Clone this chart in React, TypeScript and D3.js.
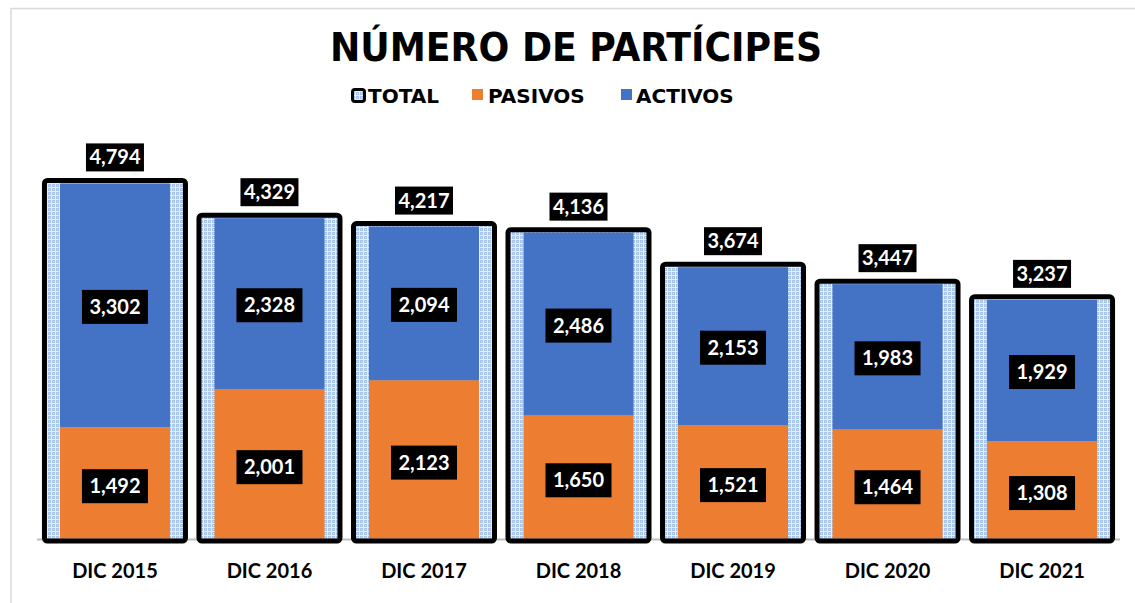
import React from "react";
import * as d3 from "d3";

// chart values
const categories = ["DIC 2015", "DIC 2016", "DIC 2017", "DIC 2018", "DIC 2019", "DIC 2020", "DIC 2021"];
const total = [4794, 4329, 4217, 4136, 3674, 3447, 3237];
const pasivos = [1492, 2001, 2123, 1650, 1521, 1464, 1308];
const activos = [3302, 2328, 2094, 2486, 2153, 1983, 1929];

const legendItems = ["TOTAL", "PASIVOS", "ACTIVOS"];

const W = 1135;
const H = 603;
const ORANGE = "#ED7D31";
const BLUE = "#4472C4";
const LABEL_FONT = "Lato, 'Open Sans', sans-serif";
const fmt = d3.format(",");

const App = () => {
  const x = d3.scaleBand<string>().domain(categories).range([37.7, 1119.3]).padding(0);
  const y = d3.scaleLinear().domain([0, 5000]).range([539, 165]);

  const outerW = 141; // total bar (stroke centre)
  const innerW = 110; // stacked bars

  const rows = categories.map((c, i) => ({
    cat: c,
    cx: (x(c) ?? 0) + x.bandwidth() / 2,
    total: total[i],
    pasivos: pasivos[i],
    activos: activos[i],
  }));

  // legend positions
  const legendX = [351, 472, 621];

  return (
    <svg
      width={W}
      height={H}
      style={{ position: "absolute", left: 0, top: 0, background: "#fff" }}
    >
      <defs>
        <pattern id="dots" width={4} height={4} patternUnits="userSpaceOnUse">
          <rect width={4} height={4} fill="#a9c6ea" />
          <rect x={3} y={0} width={1} height={4} fill="#e6eff9" />
          <rect x={0} y={3} width={4} height={1} fill="#e6eff9" />
          <rect x={1} y={1} width={1} height={1} fill="#cfe0f4" />
        </pattern>
      </defs>

      {/* chart frame */}
      <rect x={11} y={8.5} width={W} height={H} fill="none" stroke="#d9d9d9" strokeWidth={1.5} />

      {/* title */}
      <text
        x={576}
        y={61}
        textAnchor="middle"
        fontFamily="'DejaVu Sans Condensed', 'DejaVu Sans', sans-serif"
        fontWeight="bold"
        fontSize={39}
        textLength={492}
        lengthAdjust="spacingAndGlyphs"
        fill="#000"
      >
        NÚMERO DE PARTÍCIPES
      </text>

      {/* legend */}
      <g fontFamily="'DejaVu Sans', Verdana, sans-serif" fontWeight="bold" fontSize={20} fill="#000">
        <rect x={legendX[0] + 1.5} y={89.5} width={12} height={12} rx={2.5} fill="url(#dots)" stroke="#000" strokeWidth={3} />
        <text x={legendX[0] + 17} y={103}>{legendItems[0]}</text>
        <rect x={legendX[1]} y={89} width={11} height={11} fill={ORANGE} />
        <text x={legendX[1] + 16} y={103}>{legendItems[1]}</text>
        <rect x={legendX[2]} y={89} width={11} height={11} fill={BLUE} />
        <text x={legendX[2] + 15} y={103}>{legendItems[2]}</text>
      </g>

      {/* total bars (pattern fill) */}
      {rows.map((d) => (
        <rect
          key={"tf" + d.cat}
          x={d.cx - outerW / 2}
          y={y(d.total)}
          width={outerW}
          height={y(0) - y(d.total) + 2}
          fill="url(#dots)"
        />
      ))}

      {/* stacked bars */}
      {rows.map((d) => (
        <g key={"st" + d.cat}>
          <rect
            x={d.cx - innerW / 2}
            y={y(d.pasivos)}
            width={innerW}
            height={y(0) - y(d.pasivos)}
            fill={ORANGE}
          />
          <rect
            x={d.cx - innerW / 2}
            y={y(d.total) + 3}
            width={innerW}
            height={y(d.pasivos) - y(d.total) - 3}
            fill={BLUE}
          />
        </g>
      ))}

      {/* axis line */}
      <line x1={37} x2={1120} y1={539.5} y2={539.5} stroke="#bfbfbf" strokeWidth={2} />

      {/* total bar outline */}
      {rows.map((d) => (
        <rect
          key={"to" + d.cat}
          x={d.cx - outerW / 2}
          y={y(d.total)}
          width={outerW}
          height={y(0) - y(d.total) + 2}
          rx={3}
          fill="none"
          stroke="#000"
          strokeWidth={5}
        />
      ))}

      {/* labels */}
      <g fontFamily={LABEL_FONT} fontWeight="bold" fontSize={20} textAnchor="middle">
        {rows.map((d) => {
          const ty = y(d.total) - 23;
          const ay = (y(d.total) + y(d.pasivos)) / 2 + 3;
          const py = (y(d.pasivos) + y(0)) / 2 + 3;
          return (
            <g key={"lb" + d.cat}>
              <rect x={d.cx - 29} y={ty - 14} width={58} height={28} fill="#000" />
              <text x={d.cx} y={ty + 7} fill="#fff">{fmt(d.total)}</text>
              <rect x={d.cx - 33} y={ay - 17} width={66} height={34} fill="#000" />
              <text x={d.cx} y={ay + 7} fill="#fff">{fmt(d.activos)}</text>
              <rect x={d.cx - 33} y={py - 17} width={66} height={34} fill="#000" />
              <text x={d.cx} y={py + 7} fill="#fff">{fmt(d.pasivos)}</text>
            </g>
          );
        })}
      </g>

      {/* category labels */}
      <g fontFamily={LABEL_FONT} fontWeight="bold" fontSize={20} textAnchor="middle" fill="#000">
        {rows.map((d) => (
          <text key={"cx" + d.cat} x={d.cx} y={578}>{d.cat}</text>
        ))}
      </g>
    </svg>
  );
};

export default App;
